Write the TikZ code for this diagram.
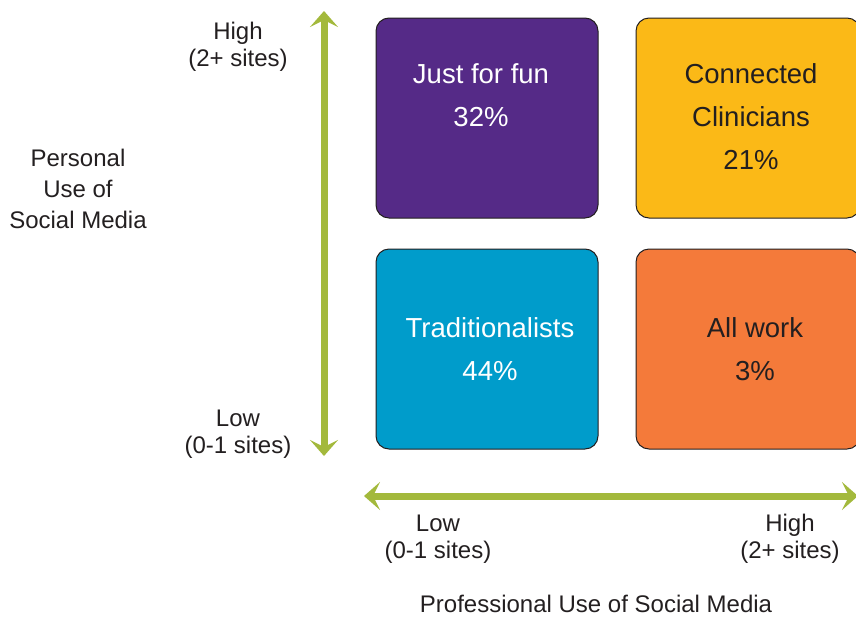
\documentclass[tikz,border=0pt]{standalone}
\usepackage{fontspec}
\setmainfont{Liberation Sans}
\usetikzlibrary{arrows.meta}
\definecolor{cpurple}{HTML}{552A87}
\definecolor{cyellow}{HTML}{FBB917}
\definecolor{cblue}{HTML}{009CCB}
\definecolor{corange}{HTML}{F47A3A}
\definecolor{cgreen}{HTML}{A3B93C}
\definecolor{ctext}{HTML}{231F20}
\begin{document}
\begin{tikzpicture}[x=1pt,y=-1pt,
  quad/.style={draw=ctext, line width=1pt, rounded corners=13pt, minimum width=222pt, minimum height=200pt, inner sep=0pt},
  boxtext/.style={align=center, font=\fontsize{27.5}{43}\selectfont, inner sep=0pt},
  lbl/.style={align=center, text=ctext, font=\fontsize{24}{27}\selectfont, inner sep=0pt},
  axis/.style={draw=cgreen, line width=7pt, {Stealth[length=16pt,width=28pt,inset=7pt]}-{Stealth[length=16pt,width=28pt,inset=7pt]}}
]
\useasboundingbox (0,0) rectangle (856,616);
% boxes
\node[quad, fill=cpurple] (fun) at (487,118) {};
\node[quad, fill=cyellow, minimum width=224pt] (conn) at (748,118) {};
\node[quad, fill=cblue] (trad) at (487,349) {};
\node[quad, fill=corange, minimum width=224pt] (work) at (748,349) {};
% box texts
\node[boxtext, text=white] (funt) at (481,95) {Just for fun\\32\%};
\node[boxtext, text=ctext] (connt) at (751,117) {Connected\\Clinicians\\21\%};
\node[boxtext, text=white] (tradt) at (490,349) {Traditionalists\\44\%};
\node[boxtext, text=ctext] (workt) at (755,349) {All work\\3\%};
% axes
\coordinate (vtop) at (324,11);
\coordinate (vbot) at (324,456);
\coordinate (hleft) at (364,496);
\coordinate (hright) at (858,496);
\draw[axis] (vbot) -- (vtop);
\draw[axis] (hleft) -- (hright);
% labels
\node[lbl] (vhigh) at (238,47) {High\\(2+ sites)};
\node[lbl] (vlow) at (238,434) {Low\\(0-1 sites)};
\node[lbl, font=\fontsize{24}{31}\selectfont] (pers) at (78,189) {Personal\\Use of\\Social Media};
\node[lbl] (hlow) at (438,539) {Low\\(0-1 sites)};
\node[lbl] (hhigh) at (790,539) {High\\(2+ sites)};
\node[lbl] (prof) at (596,604) {Professional Use of Social Media};
\end{tikzpicture}
\end{document}
